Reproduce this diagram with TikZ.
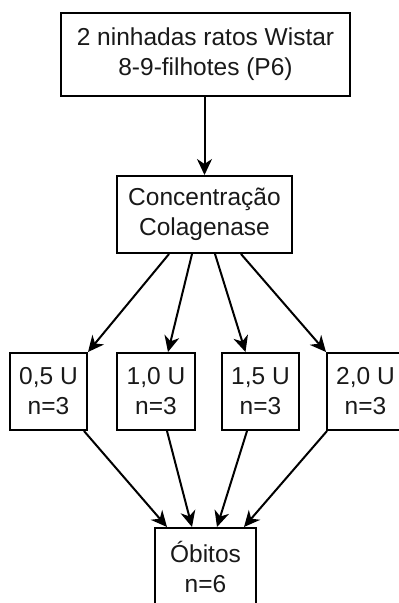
\documentclass[tikz,border=0pt]{standalone}
\usepackage{fontspec}
\setmainfont{Liberation Sans}
\usetikzlibrary{arrows.meta,calc}
\begin{document}
\begin{tikzpicture}[x=1pt,y=1pt,
  box/.style={draw=black,line width=2pt,fill=white,align=center,inner sep=0pt,
    font=\fontsize{24.5}{30}\selectfont,text=black!90},
  arr/.style={line width=2pt,-{Stealth[length=16pt,width=15pt,inset=5pt]}}]
\clip (0,0) rectangle (399,-603);
\fill[white] (0,0) rectangle (399,-603);
\node[box,minimum width=289pt,minimum height=83pt] (top) at (205.5,-54.5) {2 ninhadas ratos Wistar\\8-9-filhotes (P6)};
\node[box,minimum width=175pt,minimum height=77pt] (conc) at (204.5,-214.5) {Concentração\\Colagenase};
\node[box,minimum width=77pt,minimum height=77pt] (b1) at (48.5,-391.5) {0,5 U\\n=3};
\node[box,minimum width=78pt,minimum height=77pt] (b2) at (156,-391.5) {1,0 U\\n=3};
\node[box,minimum width=77pt,minimum height=77pt] (b3) at (260.5,-391.5) {1,5 U\\n=3};
\node[box,minimum width=77pt,minimum height=77pt] (b4) at (365.5,-391.5) {2,0 U\\n=3};
\node[box,minimum width=101pt,minimum height=77pt] (ob) at (205.5,-566.5) {Óbitos\\n=6};
\draw[arr] (top.south -| conc.north) -- (conc.north);
\draw[arr] ($(conc.south west)+(53,0)$) -- (b1.north east);
\draw[arr] ($(conc.south west)+(76,0)$) -- ($(b2.north)+(12,0)$);
\draw[arr] ($(conc.south west)+(99,0)$) -- ($(b3.north)+(-15,0)$);
\draw[arr] ($(conc.south west)+(125,0)$) -- (b4.north west);
\draw[arr] ($(b1.south east)+(-4,0)$) -- ($(ob.north west)+(13,0)$);
\draw[arr] ($(b2.south)+(11,0)$) -- ($(ob.north west)+(38,0)$);
\draw[arr] ($(b3.south)+(-13.5,0)$) -- ($(ob.north west)+(63,0)$);
\draw[arr] ($(b4.south west)+(1,0)$) -- ($(ob.north west)+(90,0)$);
\end{tikzpicture}
\end{document}
